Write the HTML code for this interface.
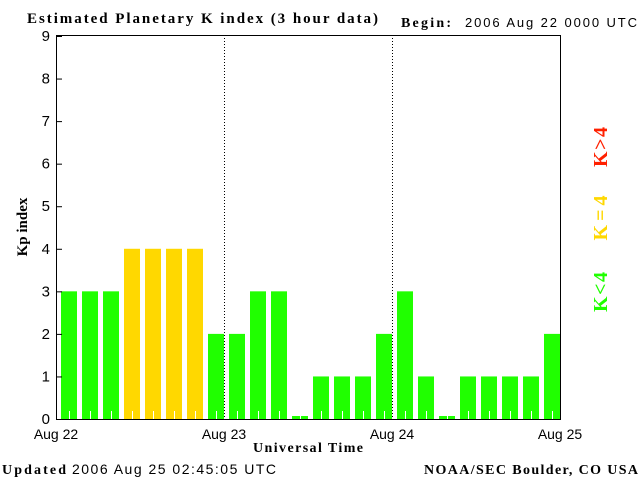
<!DOCTYPE html>
<html><head><meta charset="utf-8"><style>
body{margin:0;background:#fff;}
svg{display:block;}
.s{font-family:"Liberation Sans",sans-serif;}
.r{font-family:"Liberation Serif",serif;font-weight:bold;}
</style></head><body>
<svg id="c" width="640" height="480" xmlns="http://www.w3.org/2000/svg">
<text class="r" x="27" y="23" font-size="15" textLength="351" lengthAdjust="spacing">Estimated Planetary K index (3 hour data)</text>
<text class="r" x="401" y="27" font-size="14" textLength="50">Begin:</text>
<text class="s" x="465" y="27" font-size="13" textLength="172">2006 Aug 22 0000 UTC</text>
<g id="bars"></g>
<g id="axes"></g>
<text class="r" x="308" y="452" font-size="14" text-anchor="middle" textLength="110">Universal Time</text>
<text class="r" x="0" y="0" font-size="15" text-anchor="middle" transform="translate(27,227) rotate(-90)">Kp index</text>
<text class="r" x="0" y="0" font-size="20" fill="#ff2000" text-anchor="middle" textLength="40" transform="translate(607,147) rotate(-90)">K&gt;4</text>
<text class="r" x="0" y="0" font-size="20" fill="#ffd800" text-anchor="middle" textLength="45" transform="translate(607,218) rotate(-90)">K=4</text>
<text class="r" x="0" y="0" font-size="20" fill="#20ff00" text-anchor="middle" textLength="40" transform="translate(607,292) rotate(-90)">K&lt;4</text>
<text x="2" y="474" font-size="14"><tspan class="r" textLength="64">Updated</tspan><tspan class="s" font-size="14" textLength="204" x="72">2006 Aug 25 02:45:05 UTC</tspan></text>
<text class="r" x="638" y="474" font-size="14" text-anchor="end" textLength="214">NOAA/SEC Boulder, CO USA</text>
</svg>
<script>
const kpValues = [3,3,3,4,4,4,4,2, 2,3,3,0,1,1,1,2, 3,1,0,1,1,1,1,2];
const yTicks = [0,1,2,3,4,5,6,7,8,9];
const dayLabels = ["Aug 22","Aug 23","Aug 24","Aug 25"];
const NS="http://www.w3.org/2000/svg";
const L=56,R=560,T=35,B=419;
const y=v=>B-v*(B-36)/9;
const x=i=>L+i*(R-L)/kpValues.length;
const bars=document.getElementById('bars'), axes=document.getElementById('axes');
function mk(tag,a,p){const e=document.createElementNS(NS,tag);for(const k in a)e.setAttribute(k,a[k]);p.appendChild(e);return e;}
kpValues.forEach((v,i)=>{
  const col=v>4?'#ff2000':(v===4?'#ffd800':'#20ff00');
  const top=v===0?B-3:y(v);
  const b=mk('rect',{x:x(i)+5,y:top,width:16,height:B-top,fill:col},bars);
  
  
  const t=mk('line',{x1:x(i)+13.5,x2:x(i)+13.5,y1:B-8,y2:B,stroke:'#fff','stroke-width':1},bars);
  
  
});
mk('rect',{x:L+0.5,y:T+0.5,width:R-L,height:B-T,fill:'none',stroke:'#000','stroke-width':1},axes);
yTicks.forEach(v=>{
  mk('line',{x1:L,x2:L+6,y1:y(v)+0.5,y2:y(v)+0.5,stroke:'#000'},axes);
  const t=mk('text',{x:L-6,y:y(v)+5,'font-size':15,'text-anchor':'end',class:'s'},axes);
  t.textContent=v;
  
  
});
dayLabels.forEach((d,i)=>{
  const xx=L+i*(R-L)/3;
  if(i>0&&i<3) mk('line',{x1:xx+0.5,x2:xx+0.5,y1:T,y2:B,stroke:'#000','stroke-dasharray':'1,2'},axes);
  const t=mk('text',{x:xx,y:439,'font-size':14,'text-anchor':'middle',class:'s'},axes);
  t.textContent=d;
  
  
});
</script>
</body></html>
